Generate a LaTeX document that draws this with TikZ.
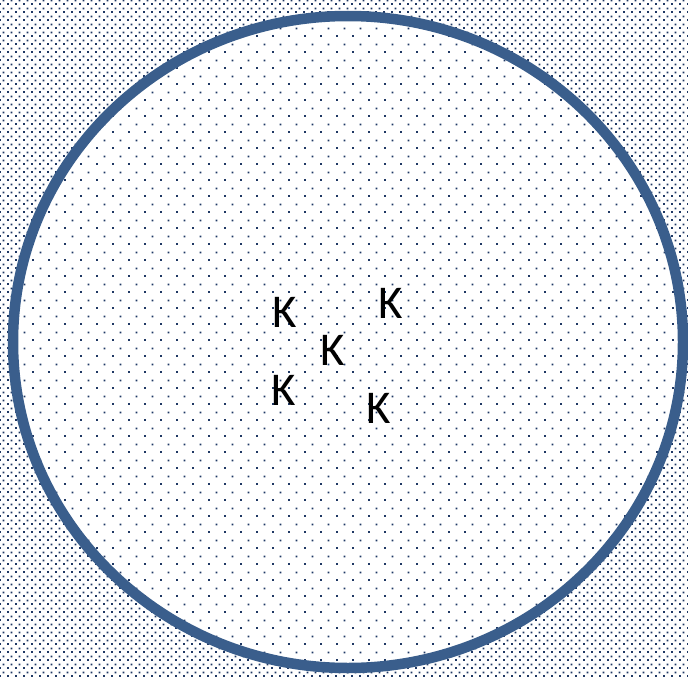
\documentclass[tikz,border=0pt]{standalone}
\usepackage{fontspec}
\setmainfont{Carlito}
\usetikzlibrary{patterns.meta}
\definecolor{dotblue}{RGB}{31,56,100}
\definecolor{ringblue}{RGB}{58,94,140}
\tikzdeclarepattern{
  name=densedots,
  type=uncolored,
  bounding box={(0,0) and (8pt,8pt)},
  tile size={(8pt,8pt)},
  code={\fill (0pt,0pt) rectangle (2pt,2pt); \fill (4pt,4pt) rectangle (6pt,6pt);}
}
\tikzdeclarepattern{
  name=sparsedots,
  type=uncolored,
  bounding box={(0,0) and (16pt,16pt)},
  tile size={(16pt,16pt)},
  code={\fill (0pt,0pt) rectangle (2pt,2pt); \fill (8pt,8pt) rectangle (10pt,10pt);}
}
\tikzset{
  kletter/.style={font=\fontsize{47}{50}\selectfont, inner sep=0pt, text=black},
  ring/.style={draw=ringblue, line width=10.5pt}
}
\begin{document}
\begin{tikzpicture}[x=1pt, y=-1pt]
  \useasboundingbox (0,0) rectangle (688,677);
  % background
  \fill[white] (0,0) rectangle (688,677);
  \fill[pattern=densedots, pattern color=dotblue] (0,0) rectangle (688,677);
  % disc
  \fill[white] (348,342) ellipse [x radius=335, y radius=326];
  \fill[pattern=sparsedots, pattern color=dotblue] (348,342) ellipse [x radius=335, y radius=326];
  \draw[ring] (348,342) ellipse [x radius=335, y radius=326];
  % letters
  \node[kletter] (k1) at (285,312) {K};
  \node[kletter] (k2) at (391,303) {K};
  \node[kletter] (k3) at (333,350) {K};
  \node[kletter] (k4) at (284,390) {K};
  \node[kletter] (k5) at (379,408) {K};
\end{tikzpicture}
\end{document}
